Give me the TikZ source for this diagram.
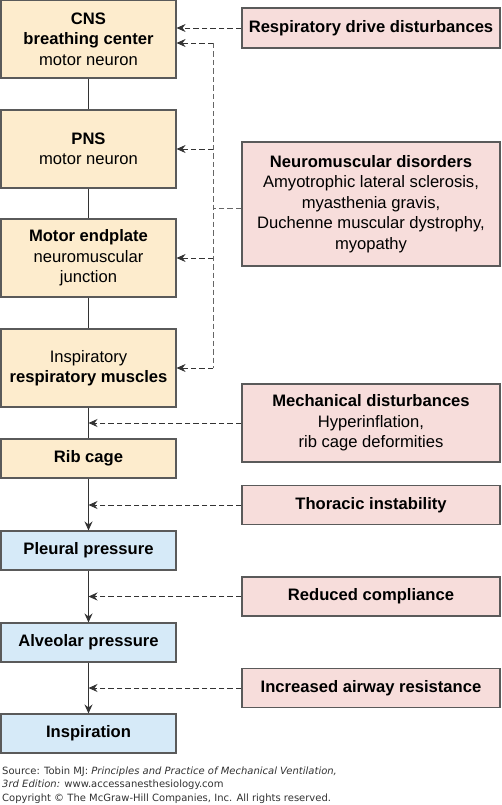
\documentclass[tikz,border=0pt]{standalone}
\usepackage{fontspec}
\setmainfont{Liberation Sans}
\newfontfamily\footfont{DejaVu Sans}
\usetikzlibrary{arrows.meta}
\definecolor{beigefill}{RGB}{253,236,205}
\definecolor{pinkfill}{RGB}{247,221,219}
\definecolor{bluefill}{RGB}{214,234,248}
\definecolor{edgegray}{RGB}{90,90,90}
\definecolor{footgray}{RGB}{50,50,50}
\begin{document}
\begin{tikzpicture}[x=1pt,y=-1pt,
  basebox/.style={draw=edgegray, line width=1.1pt, inner sep=0pt, align=center,
    font=\fontsize{16.6}{20.5}\selectfont},
  lbox/.style={basebox, fill=beigefill, minimum width=175pt},
  bbox/.style={basebox, fill=bluefill, minimum width=175pt, minimum height=39pt},
  rbox/.style={basebox, fill=pinkfill, minimum width=258pt},
  solidline/.style={draw=black!80, line width=0.9pt},
  flow/.style={solidline, -{Stealth[length=9pt,width=8pt,inset=3pt]}},
  dasharrow/.style={draw=black!80, line width=0.9pt, dash pattern=on 5.5pt off 3pt,
    -{Stealth[length=9pt,width=8pt,inset=3pt]}},
  dashline/.style={draw=black!60, line width=0.9pt, dash pattern=on 5.5pt off 3pt},
  footer/.style={anchor=west, inner sep=0pt, text=footgray,
    font=\footfont\fontsize{10}{12}\selectfont}
]
\useasboundingbox (0,0) rectangle (501,805);

% left column
\node[lbox, minimum height=77.5pt] (cns) at (88.5,39.25)
  {\textbf{CNS}\\\textbf{breathing center}\\motor neuron};
\node[lbox, minimum height=78pt] (pns) at (88.5,149)
  {\textbf{PNS}\\motor neuron};
\node[lbox, minimum height=78pt] (me) at (88.5,258)
  {\textbf{Motor endplate}\\neuromuscular\\junction};
\node[lbox, minimum height=78pt] (insp) at (88.5,368)
  {Inspiratory\\\textbf{respiratory muscles}};
\node[lbox, minimum height=39pt] (rib) at (88.5,458.5) {\textbf{Rib cage}};
\node[bbox] (pleu) at (88.5,550.5) {\textbf{Pleural pressure}};
\node[bbox] (alv) at (88.5,642.5) {\textbf{Alveolar pressure}};
\node[bbox] (ins) at (88.5,733.5) {\textbf{Inspiration}};

% right column
\node[rbox, minimum height=40pt] (rdd) at (371,28) {\textbf{Respiratory drive disturbances}};
\node[rbox, minimum height=124pt] (nmd) at (371,204)
  {\textbf{Neuromuscular disorders}\\Amyotrophic lateral sclerosis,\\myasthenia gravis,\\Duchenne muscular dystrophy,\\myopathy};
\node[rbox, minimum height=78pt] (mech) at (371,423)
  {\textbf{Mechanical disturbances}\\Hyperinflation,\\rib cage deformities};
\node[rbox, minimum height=39pt] (thor) at (371,505) {\textbf{Thoracic instability}};
\node[rbox, minimum height=39pt] (rc) at (371,596.5) {\textbf{Reduced compliance}};
\node[rbox, minimum height=39pt] (iar) at (371,688) {\textbf{Increased airway resistance}};

% main chain
\draw[solidline] (cns) -- (pns);
\draw[solidline] (pns) -- (me);
\draw[solidline] (me) -- (insp);
\draw[solidline] (insp) -- (rib);
\draw[flow] (rib) -- (pleu);
\draw[flow] (pleu) -- (alv);
\draw[flow] (alv) -- (ins);

% disturbance arrows
\draw[dasharrow] (rdd.west) -- (cns.east |- rdd.west);

\coordinate (vtop) at (213,43);
\coordinate (vbot) at (213,368);
\coordinate (vmid) at (213,208);
\draw[dashline] (vtop) -- (vbot);
\draw[dashline] (nmd.west |- vmid) -- (vmid);
\draw[dasharrow] (vtop) -- (cns.east |- vtop);
\draw[dasharrow] (vtop |- pns.east) -- (pns.east);
\draw[dasharrow] (vtop |- me.east) -- (me.east);
\draw[dasharrow] (vbot) -- (insp.east);

\coordinate (m1) at (88.5,423);
\coordinate (m2) at (88.5,505);
\coordinate (m3) at (88.5,596.5);
\coordinate (m4) at (88.5,688);
\draw[dasharrow] (mech.west) -- (m1);
\draw[dasharrow] (thor.west) -- (m2);
\draw[dasharrow] (rc.west) -- (m3);
\draw[dasharrow] (iar.west) -- (m4);

% footer
\node[footer] (src1) at (2,772) {Source: Tobin MJ: \textit{Principles and Practice of Mechanical Ventilation,}};
\node[footer] (src2) at (2,784.5) {\textit{3rd Edition:} www.accessanesthesiology.com};
\node[footer] (copy) at (2,799) {Copyright \textcopyright{} The McGraw-Hill Companies, Inc. All rights reserved.};
\end{tikzpicture}
\end{document}
